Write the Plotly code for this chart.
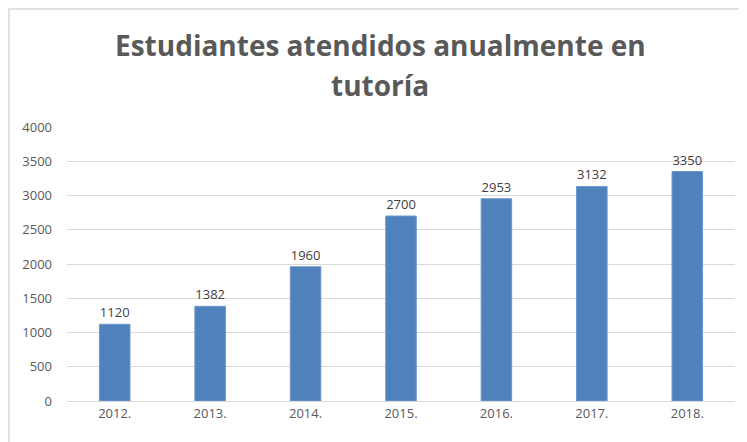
import plotly.graph_objects as go

years = ["2012.", "2013.", "2014.", "2015.", "2016.", "2017.", "2018."]
students = [1120, 1382, 1960, 2700, 2953, 3132, 3350]
y_ticks = [0, 500, 1000, 1500, 2000, 2500, 3000, 3500, 4000]
title_lines = ["Estudiantes atendidos anualmente en", "tutoría"]

W, H = 747, 442
L, R, T, B = 59, 20, 119, 49
pw = W - L - R
ph = H - T - B

def px_x(x):
    return (x - L) / pw

def px_y(y):
    return (H - B - y) / ph

FONT = "Open Sans, Liberation Sans, sans-serif"

fig = go.Figure(go.Bar(
    x=years, y=students,
    marker=dict(color="#4F81BD", line=dict(color="#6E98CC", width=1)),
    width=0.32,
    text=[str(v) for v in students],
    textposition="outside",
    textfont=dict(family=FONT, size=13, color="#404040"),
    cliponaxis=False,
))

annotations = []
for line, ypix in zip(title_lines, [37, 77]):
    annotations.append(dict(
        text="<b>" + line + "</b>", showarrow=False,
        xref="paper", yref="paper",
        x=px_x(372), y=px_y(ypix), xanchor="center", yanchor="middle",
        font=dict(family=FONT, size=28, color="#595959"),
    ))

fig.update_layout(
    width=W, height=H,
    margin=dict(l=L, r=R, t=T, b=B),
    paper_bgcolor="white", plot_bgcolor="white",
    showlegend=False,
    font=dict(family=FONT, color="#595959"),
    annotations=annotations,
    xaxis=dict(
        showgrid=False, showline=True, linecolor="#D9D9D9", linewidth=1,
        ticks="", tickfont=dict(size=13, color="#595959"),
    ),
    yaxis=dict(
        range=[0, 4000], tickvals=y_ticks,
        showgrid=True, gridcolor="#D9D9D9", gridwidth=1,
        zeroline=False, showline=False, ticks="",
        tickfont=dict(size=13, color="#595959"),
        ticklabelstandoff=14,
    ),
    shapes=[dict(
        type="rect", xref="paper", yref="paper",
        x0=px_x(1), x1=px_x(790), y0=px_y(1), y1=px_y(490),
        line=dict(color="#D9D9D9", width=1.5), fillcolor="rgba(0,0,0,0)",
        layer="below",
    )],
)

fig.write_html("out.html")
